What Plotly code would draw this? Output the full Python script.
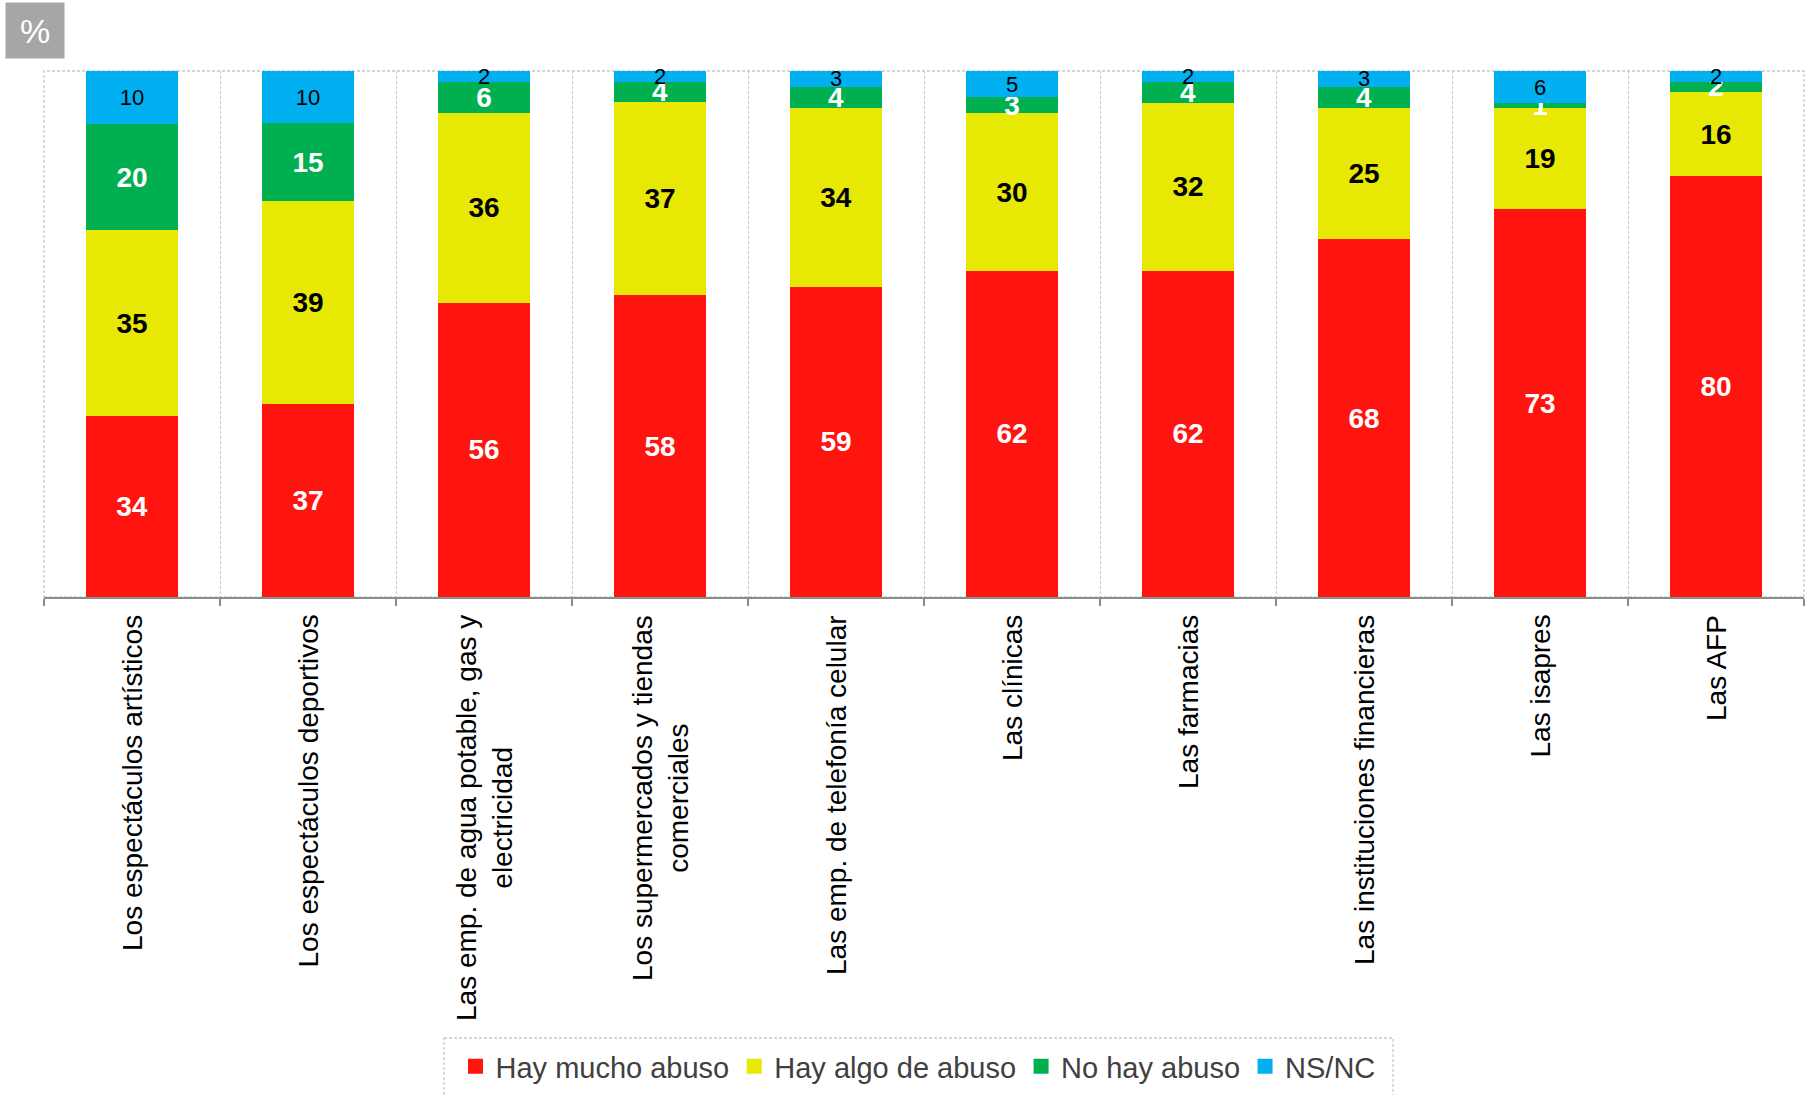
import plotly.graph_objects as go

# ---- data ----
categories = ["Los espectáculos artísticos", "Los espectáculos deportivos",
              "Las emp. de agua potable, gas y electricidad",
              "Los supermercados y tiendas comerciales",
              "Las emp. de telefonía celular", "Las clínicas", "Las farmacias",
              "Las instituciones financieras", "Las isapres", "Las AFP"]
category_labels = ["Los espectáculos artísticos", "Los espectáculos deportivos",
                   "Las emp. de agua potable, gas y<br>electricidad",
                   "Los supermercados y tiendas<br>comerciales",
                   "Las emp. de telefonía celular", "Las clínicas", "Las farmacias",
                   "Las instituciones financieras", "Las isapres", "Las AFP"]
series_names = ["Hay mucho abuso", "Hay algo de abuso", "No hay abuso", "NS/NC"]
hay_mucho = [34, 37, 56, 58, 59, 62, 62, 68, 73, 80]
hay_algo = [35, 39, 36, 37, 34, 30, 32, 25, 19, 16]
no_hay = [20, 15, 6, 4, 4, 3, 4, 4, 1, 2]
ns_nc = [10, 10, 2, 2, 3, 5, 2, 3, 6, 2]

# ---- styles ----
FONT = "Liberation Sans, Arial, sans-serif"
colors = ["#FF140F", "#E8E805", "#00AF50", "#00B0F0"]
text_fonts = [dict(family=FONT, size=28, color="white", weight="bold"),
              dict(family=FONT, size=28, color="black", weight="bold"),
              dict(family=FONT, size=28, color="white", weight="bold"),
              dict(family=FONT, size=22, color="black")]

W, H = 1812, 1095
ML, MR, MT, MB = 44, 8, 71, 498
PW, PH = W - ML - MR, H - MT - MB


def px_x(x):
    return (x - ML) / PW


def px_y(y):
    return (H - MB - y) / PH


fig = go.Figure()
for name, vals, col, tf in zip(series_names, [hay_mucho, hay_algo, no_hay, ns_nc], colors, text_fonts):
    fig.add_trace(go.Bar(
        x=categories, y=vals, name=name, marker=dict(color=col, line=dict(width=0)),
        text=vals, texttemplate="%{text}", textposition="inside",
        insidetextanchor="middle", textangle=0, constraintext="none",
        insidetextfont=tf, cliponaxis=False, showlegend=False,
    ))

# legend entries (square swatches)
for name, col in zip(series_names, colors):
    fig.add_trace(go.Scatter(
        x=[None], y=[None], mode="markers", name=name,
        marker=dict(symbol="square", size=15, color=col),
        showlegend=True, hoverinfo="skip",
    ))

# category labels (rotated, centered multi-line)
for cat, lab in zip(categories, category_labels):
    fig.add_annotation(x=cat, xref="x", y=px_y(613), yref="paper",
                       text=lab, textangle=-90, showarrow=False,
                       xanchor="center", yanchor="top", align="center",
                       font=dict(family=FONT, size=28, color="black"))

# "%" box
fig.add_annotation(x=px_x(5), y=px_y(2), xref="paper", yref="paper",
                   xanchor="left", yanchor="top", showarrow=False,
                   text="%", width=58, height=55, borderpad=0,
                   bgcolor="#A6A6A6", font=dict(family=FONT, size=34, color="white"))

# dashed plot frame (left, top, right)
fig.add_shape(type="rect", xref="paper", yref="paper", x0=0, x1=1, y0=0, y1=1,
              line=dict(color="#C8C8C8", width=1.3, dash="3px,2px"), layer="below")

# dashed legend frame
fig.add_shape(type="rect", xref="paper", yref="paper",
              x0=px_x(444), x1=px_x(1393), y0=px_y(1038), y1=px_y(1115),
              line=dict(color="#C8C8C8", width=1.3, dash="3px,2px"))

fig.update_layout(
    width=W, height=H,
    margin=dict(l=ML, r=MR, t=MT, b=MB, autoexpand=False),
    barmode="stack", barnorm="percent", bargap=0.472,
    plot_bgcolor="white", paper_bgcolor="white",
    font=dict(family=FONT),
    showlegend=True,
    legend=dict(orientation="h", x=px_x(918), xanchor="center",
                y=px_y(1041), yanchor="top", traceorder="normal",
                font=dict(family=FONT, size=29, color="#404040"),
                bgcolor="rgba(0,0,0,0)", itemsizing="trace", itemwidth=30,
                tracegroupgap=0),
    xaxis=dict(showticklabels=False, tickson="boundaries", ticks="outside",
               ticklen=7, tickcolor="#8C8C8C", tickwidth=1.5,
               showline=True, linecolor="#8C8C8C", linewidth=2,
               showgrid=True, gridcolor="#C8C8C8", gridwidth=1, griddash="3px,2px",
               range=[-0.5, len(categories) - 0.5]),
    yaxis=dict(range=[0, 100.02], showticklabels=False, showgrid=False,
               zeroline=False, showline=False, ticks=""),
)

fig.write_html("out.html", post_script="document.body.style.margin='0';",
               config={"displayModeBar": False})
